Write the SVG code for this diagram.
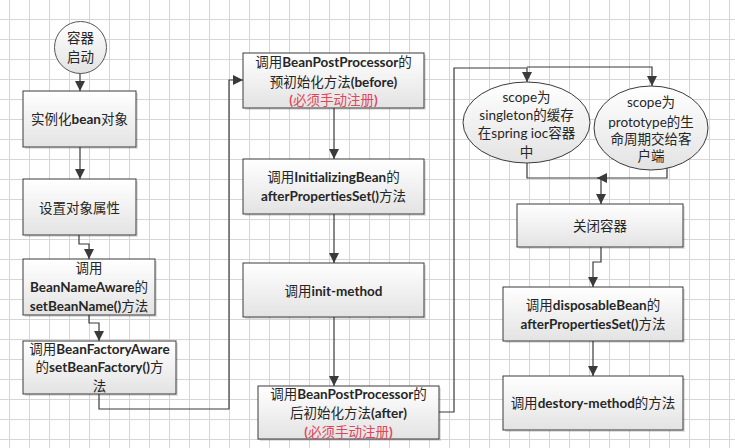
<svg xmlns="http://www.w3.org/2000/svg" width="735" height="448" viewBox="0 0 735 448">
<style>
.t{font-family:Lato,"Noto Sans CJK SC",sans-serif;font-size:13.5px;fill:#262626;text-anchor:middle}
.b{font-weight:bold}
.r{fill:#e0455a}
.box{fill:url(#g);stroke:#3a3a3a;stroke-width:1}
.sh{fill:#000;opacity:0.12}
.c{fill:none;stroke:#3a3a3a;stroke-width:1.2}
.a{marker-end:url(#arr)}
</style>
<defs>
<pattern id="grid" patternUnits="userSpaceOnUse" x="9" y="19" width="20" height="20">
<path d="M0.5,0 V20 M0,0.5 H20" stroke="#d6d6d6" stroke-width="1" fill="none"/>
</pattern>
<linearGradient id="g" x1="0" y1="0" x2="0" y2="1">
<stop offset="0" stop-color="#ffffff"/>
<stop offset="1" stop-color="#e3e3e3"/>
</linearGradient>
<marker id="arr" markerUnits="userSpaceOnUse" markerWidth="10" markerHeight="10" viewBox="0 0 10 10" refX="10" refY="5" orient="auto">
<path d="M0,0 L10,5 L0,10 z" fill="#3a3a3a"/>
</marker>
</defs>
<rect width="735" height="448" fill="#fff"/>
<rect width="735" height="448" fill="url(#grid)"/>

<g id="connectors">
<path class="c a" d="M80,73 V91"/>
<path class="c a" d="M80,147 V179"/>
<path class="c a" d="M79,235 V244 H89 V259"/>
<path class="c a" d="M89,315 V323 H99 V341"/>
<path class="c a" d="M99,394 V409 H229 V80 H243"/>
<path class="c a" d="M334,108 V159"/>
<path class="c a" d="M334,214 V263"/>
<path class="c a" d="M334,317 V386"/>
<path class="c a" d="M439,412 H454 V68 H527 V82"/>
<path class="c a" d="M527,67 H652 V86"/>
<path class="c" d="M527,163 V178 H601"/>
<path class="c a" d="M667,168 V178 H597"/>
<path class="c a" d="M601,178 V204"/>
<path class="c a" d="M601,247 V262 H593 V287"/>
<path class="c a" d="M593,341 V376"/>
</g>

<g id="start">
<circle cx="80.5" cy="47.5" r="26" fill="url(#g)" stroke="#555" stroke-width="1"/>
<text class="t" x="80.5" y="43" fill="#444">容器</text>
<text class="t" x="80.5" y="62">启动</text>
</g>

<g id="n1">
<rect class="sh" x="25" y="93" width="113" height="56"/>
<rect class="box" x="23" y="91" width="113" height="56"/>
<text class="t" x="79.5" y="123.5">实例化<tspan class="b">bean</tspan>对象</text>
</g>

<g id="n2">
<rect class="sh" x="25" y="181" width="113" height="56"/>
<rect class="box" x="23" y="179" width="113" height="56"/>
<text class="t" x="79.5" y="212.5">设置对象属性</text>
</g>

<g id="n3">
<rect class="sh" x="25" y="261" width="132" height="56"/>
<rect class="box" x="23" y="259" width="132" height="56"/>
<text class="t" x="89" y="272.5">调用</text>
<text class="t" x="89" y="291.5"><tspan class="b">BeanNameAware</tspan>的</text>
<text class="t" x="89" y="310.5"><tspan class="b">setBeanName()</tspan>方法</text>
</g>

<g id="n4">
<rect class="sh" x="25" y="343" width="153" height="53"/>
<rect class="box" x="23" y="341" width="153" height="53"/>
<text class="t" x="99.5" y="353.5">调用<tspan class="b">BeanFactoryAware</tspan></text>
<text class="t" x="99.5" y="371.5">的<tspan class="b">setBeanFactory()</tspan>方</text>
<text class="t" x="99.5" y="390.5">法</text>
</g>

<g id="n5">
<rect class="sh" x="245" y="55" width="181" height="55"/>
<rect class="box" x="243" y="53" width="181" height="55"/>
<text class="t" x="333.5" y="66.5">调用<tspan class="b">BeanPostProcessor</tspan>的</text>
<text class="t" x="333.5" y="86.5">预初始化方法<tspan class="b">(before)</tspan></text>
<text class="t r" x="333.5" y="104.5"><tspan class="b">(</tspan>必须手动注册<tspan class="b">)</tspan></text>
</g>

<g id="n6">
<rect class="sh" x="245" y="161" width="181" height="55"/>
<rect class="box" x="243" y="159" width="181" height="55"/>
<text class="t" x="333.5" y="181.5">调用<tspan class="b">InitializingBean</tspan>的</text>
<text class="t" x="333.5" y="200.5"><tspan class="b">afterPropertiesSet()</tspan>方法</text>
</g>

<g id="n7">
<rect class="sh" x="245" y="265" width="181" height="54"/>
<rect class="box" x="243" y="263" width="181" height="54"/>
<text class="t" x="333.5" y="295.5">调用<tspan class="b">init-method</tspan></text>
</g>

<g id="n8">
<rect class="sh" x="260" y="388" width="181" height="53"/>
<rect class="box" x="258" y="386" width="181" height="53"/>
<text class="t" x="348.5" y="398.5">调用<tspan class="b">BeanPostProcessor</tspan>的</text>
<text class="t" x="348.5" y="417.5">后初始化方法<tspan class="b">(after)</tspan></text>
<text class="t r" x="348.5" y="436.5"><tspan class="b">(</tspan>必须手动注册<tspan class="b">)</tspan></text>
</g>

<g id="e1">
<ellipse cx="526.5" cy="122.5" rx="63.5" ry="40.5" fill="url(#g)" stroke="#3a3a3a" stroke-width="1"/>
<text class="t" x="526.5" y="101.5">scope为</text>
<text class="t" x="526.5" y="119.5">singleton的缓存</text>
<text class="t" x="526.5" y="137.5">在spring ioc容器</text>
<text class="t" x="526.5" y="156.5">中</text>
</g>

<g id="e2">
<ellipse cx="651" cy="128" rx="57" ry="42" fill="url(#g)" stroke="#3a3a3a" stroke-width="1"/>
<text class="t" x="651" y="106.5">scope为</text>
<text class="t" x="651" y="126.5">prototype的生</text>
<text class="t" x="651" y="143.5">命周期交给客</text>
<text class="t" x="651" y="160.5">户端</text>
</g>

<g id="n9">
<rect class="sh" x="519" y="206" width="166" height="43"/>
<rect class="box" x="517" y="204" width="166" height="43"/>
<text class="t" x="600" y="231">关闭容器</text>
</g>

<g id="n10">
<rect class="sh" x="505" y="289" width="180" height="54"/>
<rect class="box" x="503" y="287" width="180" height="54"/>
<text class="t" x="593" y="309.5">调用<tspan class="b">disposableBean</tspan>的</text>
<text class="t" x="593" y="328.5"><tspan class="b">afterPropertiesSet()</tspan>方法</text>
</g>

<g id="n11">
<rect class="sh" x="505" y="378" width="180" height="54"/>
<rect class="box" x="503" y="376" width="180" height="54"/>
<text class="t" x="593" y="407.5">调用<tspan class="b">destory-method</tspan>的方法</text>
</g>
</svg>
